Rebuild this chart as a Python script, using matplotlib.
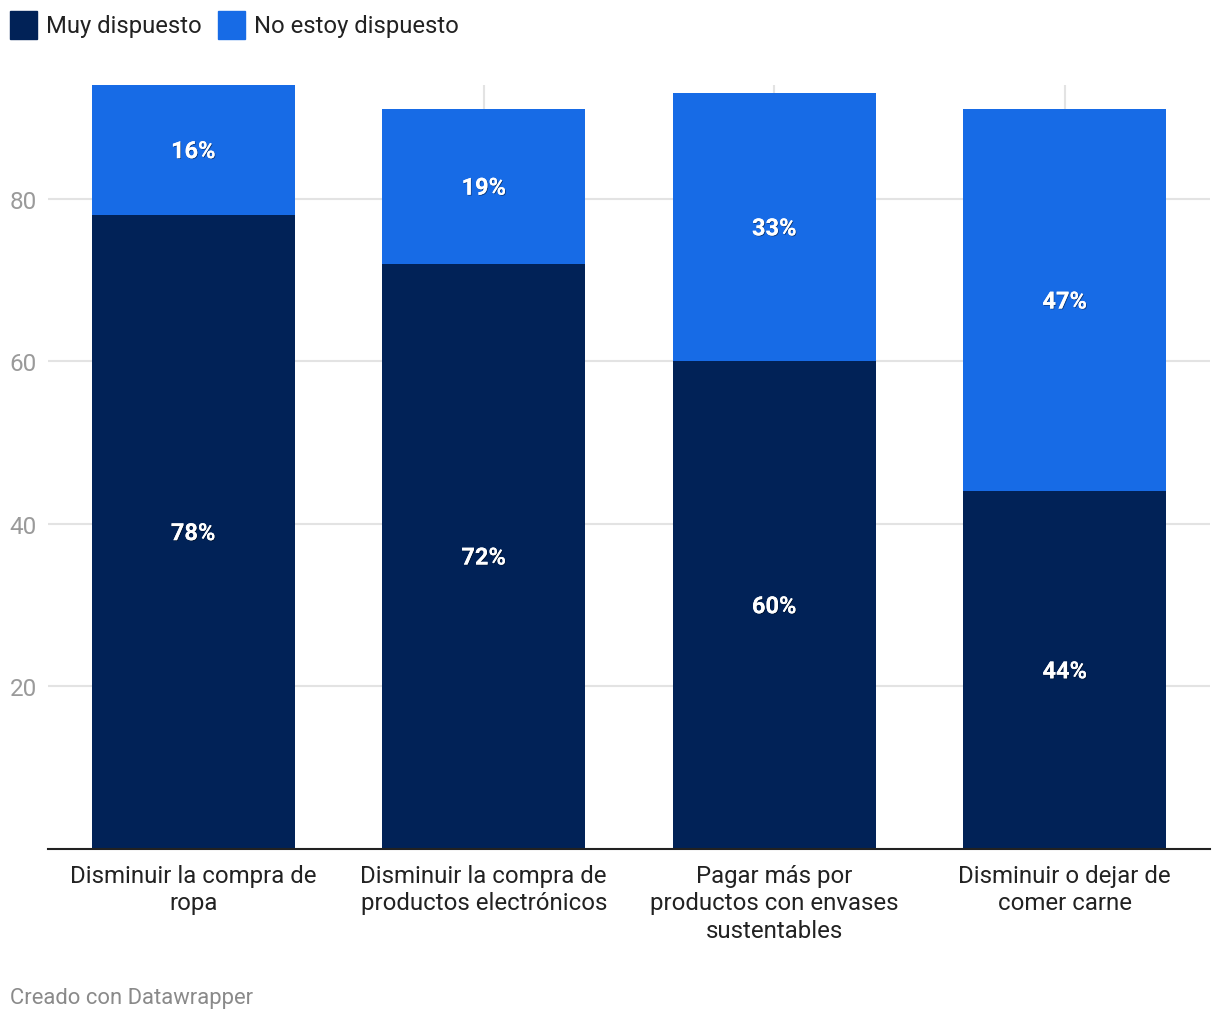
import matplotlib
matplotlib.use("Agg")
import matplotlib.pyplot as plt
import matplotlib.patheffects as pe
from matplotlib.patches import Rectangle

plt.rcParams['font.family'] = ['Roboto', 'DejaVu Sans']

categories = ["Disminuir la compra de\nropa",
              "Disminuir la compra de\nproductos electrónicos",
              "Pagar más por\nproductos con envases\nsustentables",
              "Disminuir o dejar de\ncomer carne"]
muy_dispuesto = [78, 72, 60, 44]
no_dispuesto = [16, 19, 33, 47]
series_names = ["Muy dispuesto", "No estoy dispuesto"]
yticks = [20, 40, 60, 80]

c_dark = "#012257"
c_blue = "#176be6"

fig = plt.figure(figsize=(12.2, 10.2), dpi=100)
ax = fig.add_axes([48/1220, (1020-850)/1020, (1210-48)/1220, (850-86)/1020])

x = list(range(len(categories)))
w = 0.7
ax.bar(x, muy_dispuesto, width=w, color=c_dark, zorder=3)
ax.bar(x, no_dispuesto, width=w, bottom=muy_dispuesto, color=c_blue, zorder=3)

shadow = [pe.withSimplePatchShadow(offset=(0.6, -0.6), shadow_rgbFace='#000000', alpha=0.45), pe.Normal()]
for xi, a, b in zip(x, muy_dispuesto, no_dispuesto):
    ax.text(xi, a/2 - 0.2, f"{a}%", ha='center', va='center', color='white',
            fontsize=17, fontweight='bold', zorder=5, path_effects=shadow)
    ax.text(xi, a + b/2 - 0.2, f"{b}%", ha='center', va='center', color='white',
            fontsize=17, fontweight='bold', zorder=5, path_effects=shadow)

ax.set_xlim(-0.5, 3.5)
ax.set_ylim(0, 94)
ax.set_yticks(yticks)
ax.set_yticklabels([str(t) for t in yticks])
ax.set_xticks(x)
ax.set_xticklabels(categories, fontsize=17.3, color='#222222', linespacing=1.27)
ax.tick_params(axis='y', length=0, labelsize=17.5, labelcolor='#9a9a9a', pad=8)
ax.tick_params(axis='x', length=0, pad=10.5)
ax.grid(True, color='#e3e3e3', linewidth=1.5, zorder=0)
for s in ['top', 'right', 'left']:
    ax.spines[s].set_visible(False)
ax.spines['bottom'].set_color('#222222')
ax.spines['bottom'].set_linewidth(1.5)
ax.spines['bottom'].set_zorder(4)

# legend
fig.patches.append(Rectangle((10/1220, 1-40/1020), 27/1220, 28/1020,
                             transform=fig.transFigure, color=c_dark))
fig.text(46/1220, 1-27/1020, series_names[0], fontsize=17.2, color='#222222', va='center')
fig.patches.append(Rectangle((218/1220, 1-40/1020), 27/1220, 28/1020,
                             transform=fig.transFigure, color=c_blue))
fig.text(254/1220, 1-27/1020, series_names[1], fontsize=17.2, color='#222222', va='center')

fig.text(10/1220, 1-999/1020, "Creado con Datawrapper", fontsize=15.8, color='#8a8a8a', va='center')

fig.savefig("out.png", dpi=100)
